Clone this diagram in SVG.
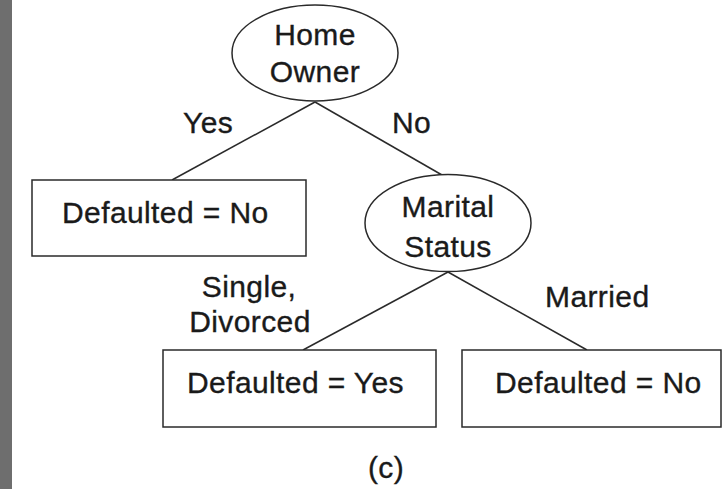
<svg xmlns="http://www.w3.org/2000/svg" width="724" height="489" viewBox="0 0 724 489">
<style>
text{font-family:"Liberation Sans",Arial,sans-serif;font-size:30px;fill:#1a1a1a;stroke:#1a1a1a;stroke-width:0.35;letter-spacing:0.4px}
.s{fill:#fff;stroke:#2a2a2a;stroke-width:1.5}
.c{stroke:#2a2a2a;stroke-width:1.5;fill:none}
</style>
<rect x="0" y="0" width="724" height="489" fill="#fff"/>
<rect x="0" y="0" width="12" height="489" fill="#6e6e6e"/>
<g id="connectors">
<line class="c" x1="315" y1="102" x2="172" y2="180"/>
<line class="c" x1="315" y1="102" x2="442" y2="175"/>
<line class="c" x1="448" y1="272" x2="303" y2="350"/>
<line class="c" x1="448" y1="272" x2="587" y2="350"/>
<text x="183" y="133">Yes</text>
<text x="392" y="133">No</text>
<text x="249" y="297" text-anchor="middle">Single,</text>
<text x="250" y="332" text-anchor="middle">Divorced</text>
<text x="545" y="307">Married</text>
</g>
<g id="home-owner">
<ellipse class="s" cx="315" cy="53" rx="83" ry="48"/>
<text x="315" y="45" text-anchor="middle">Home</text>
<text x="315" y="82" text-anchor="middle">Owner</text>
</g>
<g id="leaf-yes-no">
<rect class="s" x="32" y="180" width="274" height="76"/>
<text x="62" y="223">Defaulted = No</text>
</g>
<g id="marital-status">
<ellipse class="s" cx="448" cy="223" rx="83" ry="48.5"/>
<text x="448" y="217" text-anchor="middle">Marital</text>
<text x="448" y="257" text-anchor="middle">Status</text>
</g>
<g id="leaf-single">
<rect class="s" x="163" y="350" width="273" height="77"/>
<text x="187" y="393">Defaulted = Yes</text>
</g>
<g id="leaf-married">
<rect class="s" x="462" y="350" width="259" height="77"/>
<text x="495" y="393">Defaulted = No</text>
</g>
<text x="386" y="478" text-anchor="middle">(c)</text>
</svg>
